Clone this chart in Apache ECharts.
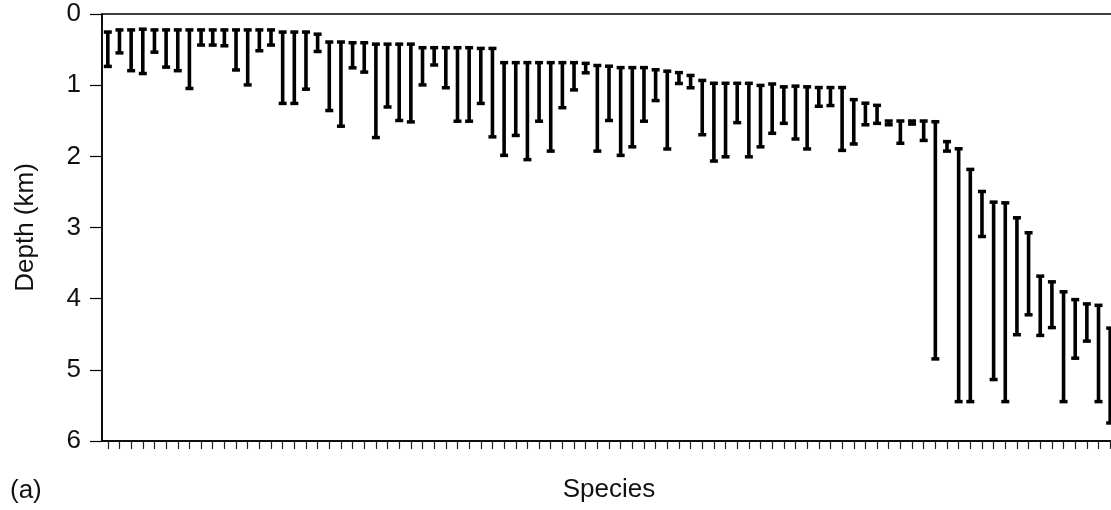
<!DOCTYPE html>
<html>
<head>
<meta charset="utf-8">
<script src="https://cdn.jsdelivr.net/npm/echarts@6/dist/echarts.min.js"></script>
<style>
html,body{margin:0;padding:0;background:#fff;}
#chart{width:1111px;height:510px;}
</style>
</head>
<body>
<div id="chart"></div>
<script>
// Upper limit of depth range (km) for each species
const tops = [
  0.25,0.22,0.22,0.21,0.22,0.22,0.22,0.22,0.22,0.22,0.22,0.22,0.22,0.22,
  0.22,0.25,0.25,0.25,0.28,0.39,0.39,0.40,0.40,0.42,0.42,0.42,0.42,0.47,
  0.47,0.47,0.47,0.47,0.48,0.48,0.68,0.68,0.68,0.68,0.68,0.68,0.68,0.69,
  0.72,0.73,0.75,0.75,0.75,0.78,0.80,0.82,0.86,0.93,0.97,0.97,0.97,0.97,
  1.00,0.98,1.02,1.01,1.02,1.03,1.03,1.03,1.20,1.25,1.28,1.50,1.50,1.50,1.50,
  1.51,1.79,1.89,2.18,2.49,2.64,2.65,2.86,3.07,3.68,3.76,3.90,4.01,4.07,4.09,4.41
];
// Lower limit of depth range (km) for each species
const bottoms = [
  0.74,0.55,0.80,0.84,0.54,0.75,0.80,1.05,0.44,0.44,0.45,0.79,1.00,0.52,
  0.44,1.26,1.26,1.06,0.53,1.36,1.58,0.76,0.82,1.74,1.31,1.50,1.52,1.00,
  0.72,1.04,1.51,1.51,1.26,1.73,1.99,1.71,2.05,1.51,1.93,1.32,1.07,0.83,
  1.93,1.50,1.99,1.87,1.51,1.22,1.90,0.98,1.04,1.70,2.07,2.01,1.53,2.01,
  1.87,1.68,1.54,1.76,1.90,1.30,1.29,1.92,1.83,1.56,1.54,1.56,1.82,1.55,1.78,
  4.85,1.93,5.45,5.45,3.13,5.14,5.45,4.51,4.23,4.52,4.41,5.45,4.84,4.60,5.45,5.75
];
const species = tops.map((_, i) => 'S' + (i + 1));
const depthTicks = [0, 1, 2, 3, 4, 5, 6];

const FONT = '"Liberation Sans", Arial, Helvetica, sans-serif';
const chart = echarts.init(document.getElementById('chart'), null, {renderer: 'canvas'});
const data = species.map((s, i) => [i, tops[i], bottoms[i]]);

chart.setOption({
  animation: false,
  backgroundColor: '#fff',
  grid: {
    left: 102, width: 1014, top: 14, height: 427,
    outerBoundsMode: 'none',
    containLabel: false,
    show: true, borderColor: '#000', borderWidth: 1.5, backgroundColor: 'transparent'
  },
  xAxis: {
    type: 'category',
    data: species,
    boundaryGap: true,
    position: 'bottom',
    name: 'Species',
    nameLocation: 'middle',
    nameGap: 36,
    nameTextStyle: {fontFamily: FONT, fontSize: 26, color: '#111'},
    axisLine: {onZero: false, lineStyle: {color: '#000', width: 1.5}},
    axisTick: {show: true, alignWithLabel: true, interval: 0, length: 8, lineStyle: {color: '#222', width: 1.2}},
    axisLabel: {show: false},
    splitLine: {show: false}
  },
  yAxis: {
    type: 'value',
    inverse: true,
    min: depthTicks[0],
    max: depthTicks[depthTicks.length - 1],
    interval: 1,
    name: 'Depth (km)',
    nameLocation: 'middle',
    nameRotate: 90,
    nameGap: 63,
    nameTextStyle: {fontFamily: FONT, fontSize: 26, color: '#111'},
    axisLine: {show: true, lineStyle: {color: '#000', width: 1.5}},
    axisTick: {show: true, length: 12, lineStyle: {color: '#000', width: 1.2}},
    axisLabel: {fontFamily: FONT, fontSize: 26, color: '#111', margin: 21},
    splitLine: {show: false}
  },
  graphic: [{
    type: 'text', left: 10, top: 478,
    style: {text: '(a)', font: '26px ' + FONT, fill: '#111'}
  }],
  series: [{
    type: 'custom',
    data: data,
    encode: {x: 0, y: [1, 2]},
    renderItem: function (params, api) {
      const p1 = api.coord([api.value(0), api.value(1)]);
      const p2 = api.coord([api.value(0), api.value(2)]);
      const x = p1[0], y1 = p1[1], y2 = p2[1];
      return {
        type: 'group',
        children: [
          {type: 'rect', shape: {x: x - 1.8, y: y1, width: 3.6, height: Math.max(y2 - y1, 1)}, style: {fill: '#000'}},
          {type: 'rect', shape: {x: x - 4, y: y1 - 1.5, width: 8, height: 3.5}, style: {fill: '#000'}},
          {type: 'rect', shape: {x: x - 4, y: y2 - 2, width: 8, height: 3.5}, style: {fill: '#000'}}
        ]
      };
    }
  }]
});
</script>
</body>
</html>
